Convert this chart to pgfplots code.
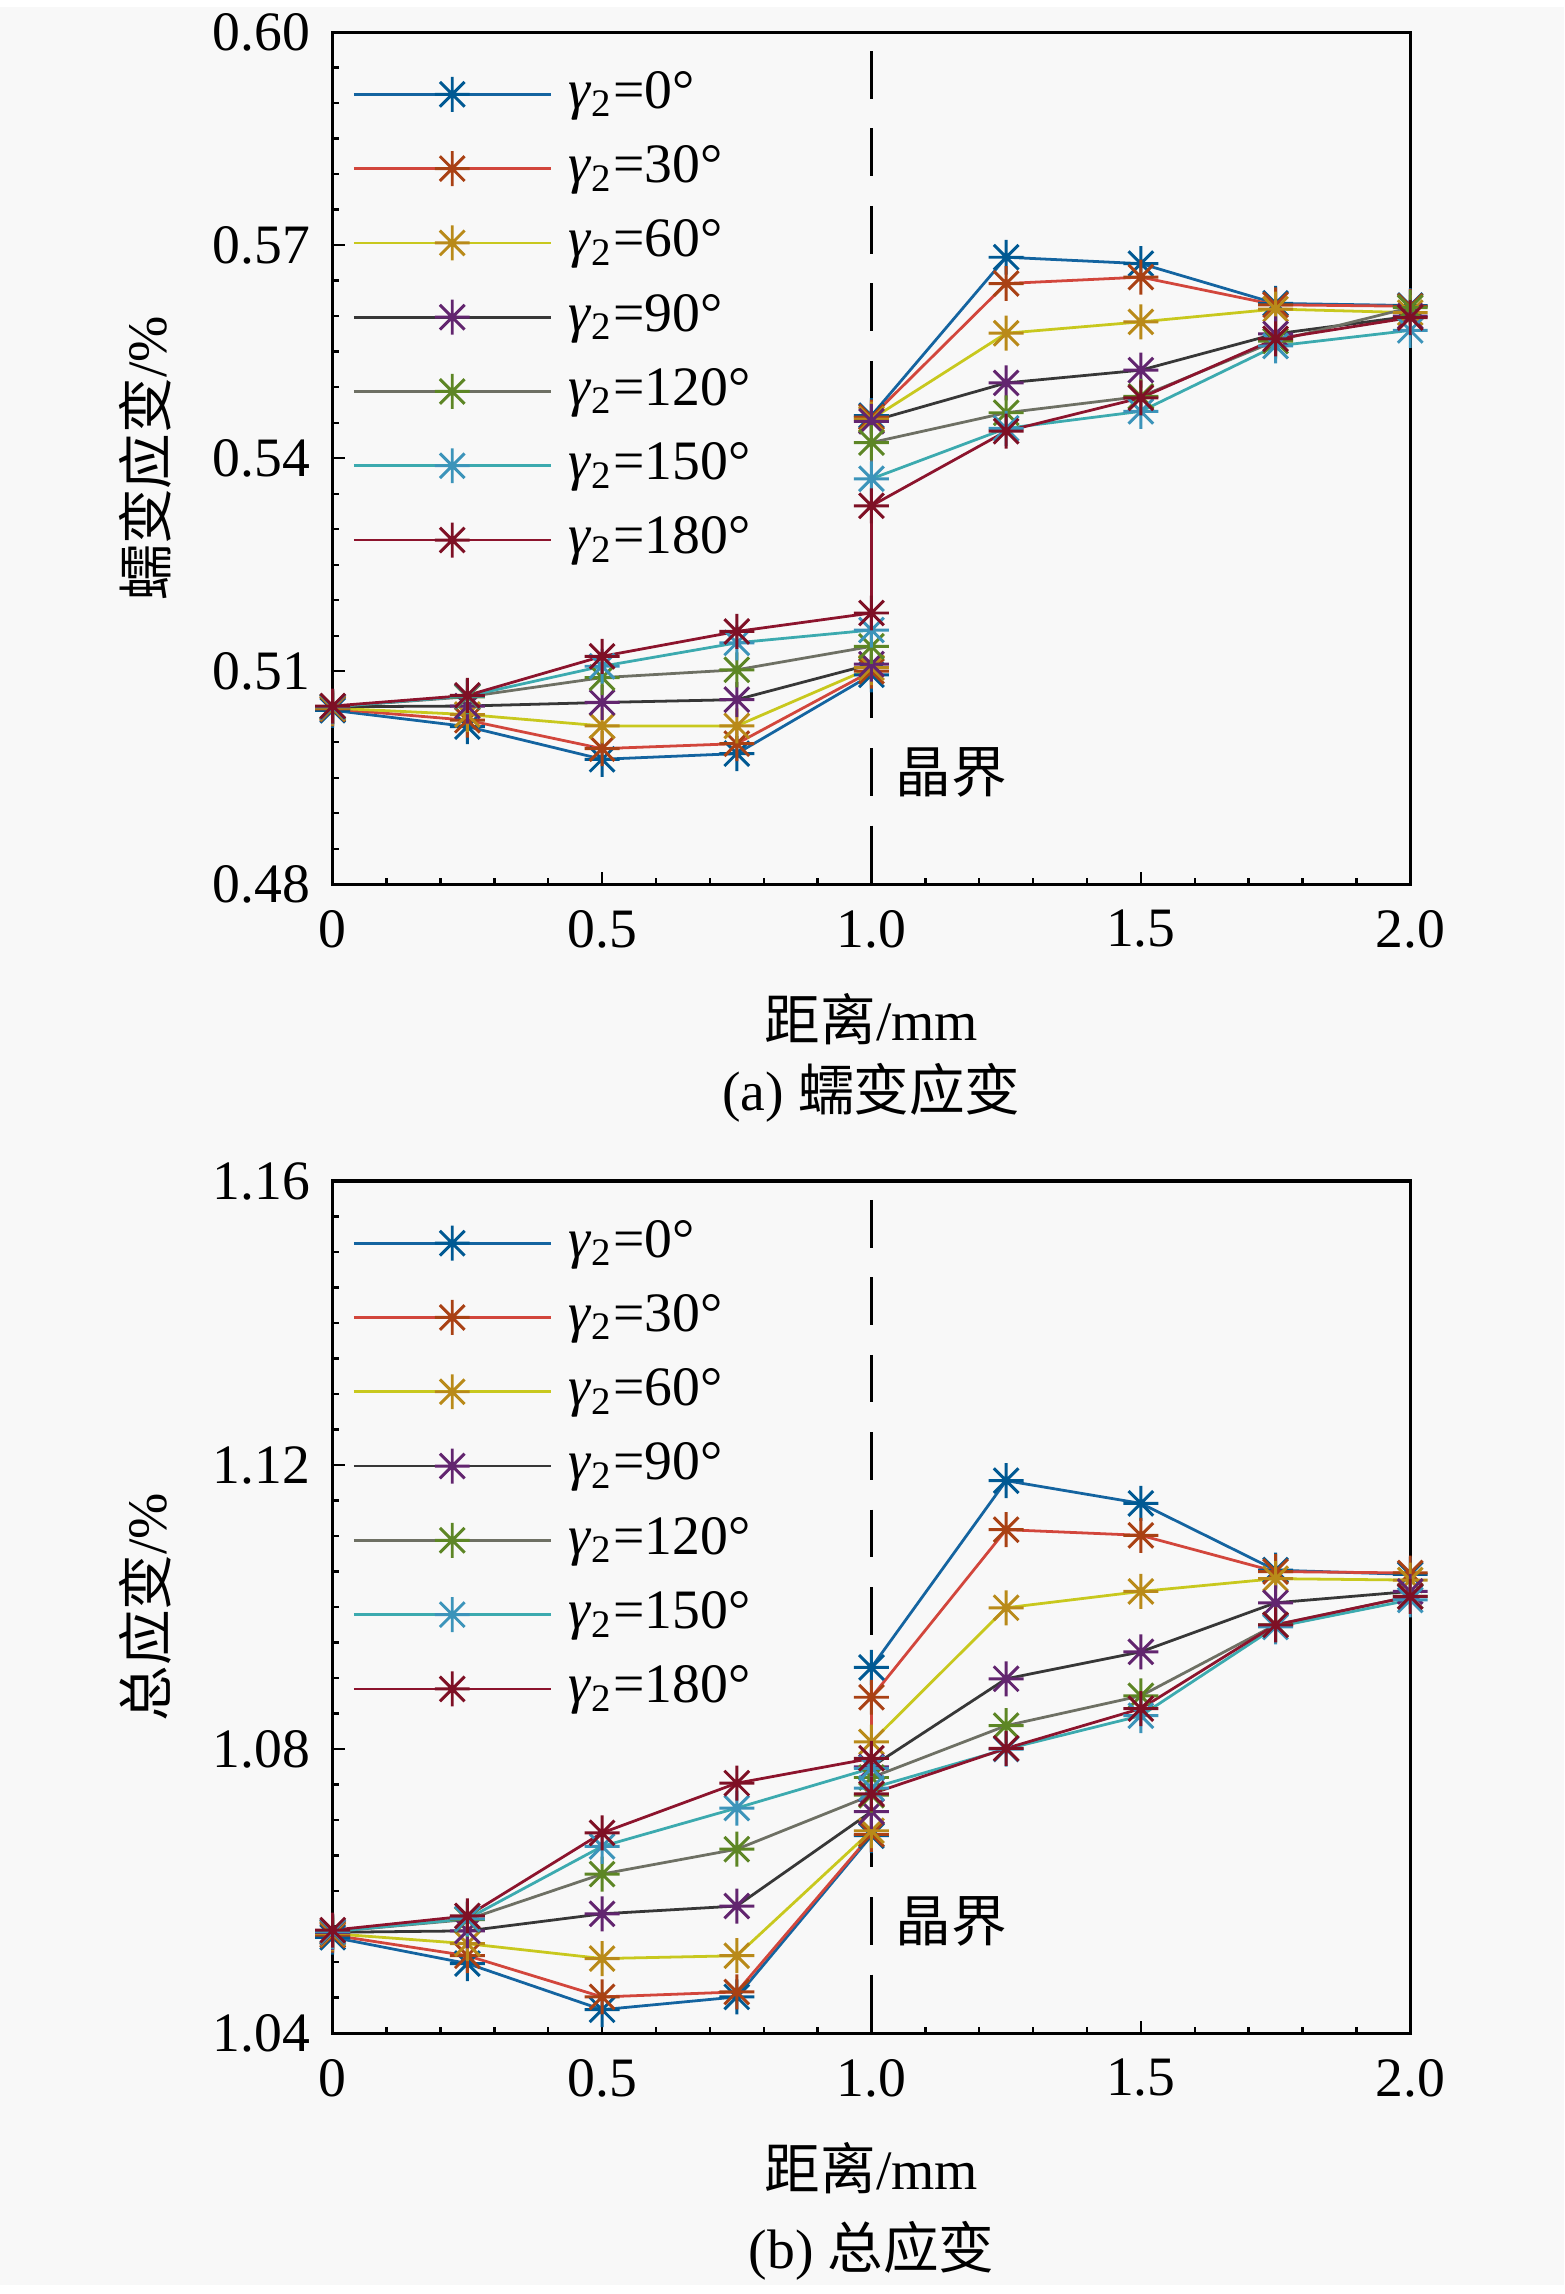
\documentclass[border=0pt]{standalone}
\usepackage{pgfplots}
\pgfplotsset{compat=1.18}
\usepackage{fontspec}
\setmainfont{Liberation Serif}
\newfontfamily\cjk{Noto Sans CJK SC}

\definecolor{bg}{RGB}{248,248,248}
\definecolor{l0}{RGB}{20,100,160}
\definecolor{l30}{RGB}{210,70,60}
\definecolor{l60}{RGB}{200,200,30}
\definecolor{l90}{RGB}{55,55,55}
\definecolor{l120}{RGB}{110,112,100}
\definecolor{l150}{RGB}{60,170,175}
\definecolor{l180}{RGB}{140,20,45}
\definecolor{m0}{RGB}{0,114,189}
\definecolor{m30}{RGB}{217,83,25}
\definecolor{m60}{RGB}{237,177,32}
\definecolor{m90}{RGB}{126,47,142}
\definecolor{m120}{RGB}{119,172,48}
\definecolor{m150}{RGB}{77,190,238}
\definecolor{m180}{RGB}{162,20,47}

\pgfdeclareplotmark{star8}{%
  \pgfpathmoveto{\pgfqpoint{0pt}{\pgfplotmarksize}}%
  \pgfpathlineto{\pgfqpoint{0pt}{-\pgfplotmarksize}}%
  \pgfpathmoveto{\pgfqpoint{\pgfplotmarksize}{0pt}}%
  \pgfpathlineto{\pgfqpoint{-\pgfplotmarksize}{0pt}}%
  \pgfpathmoveto{\pgfqpoint{.70710678\pgfplotmarksize}{.70710678\pgfplotmarksize}}%
  \pgfpathlineto{\pgfqpoint{-.70710678\pgfplotmarksize}{-.70710678\pgfplotmarksize}}%
  \pgfpathmoveto{\pgfqpoint{-.70710678\pgfplotmarksize}{.70710678\pgfplotmarksize}}%
  \pgfpathlineto{\pgfqpoint{.70710678\pgfplotmarksize}{-.70710678\pgfplotmarksize}}%
  \pgfusepathqstroke}

\newcommand{\fs}{\fontsize{14}{16}\selectfont}

\pgfplotsset{
  base/.style={
    scale only axis, width=271.25pt, height=214.5pt,
    xmin=0, xmax=2, xtick={0,0.5,1,1.5,2}, xticklabels={0,0.5,1.0,1.5,2.0},
    minor x tick num=4,
    tick pos=left, tick align=inside,
    major tick length=3pt, minor tick length=1.6pt,
    every tick/.style={black, line width=0.6pt},
    axis line style={line width=0.8pt},
    ticklabel style={font=\fs},
    xticklabel style={yshift=-3pt},
    yticklabel style={xshift=-2.2pt},
    label style={font=\fs},
    xlabel style={at={(axis description cs:0.5,-0.1585)}, anchor=center},
    ylabel style={at={(axis description cs:-0.1738,0.5)}, anchor=center},
    clip=false,
    axis background/.style={fill=bg},
    legend cell align=left,
    legend style={at={(axis description cs:0.0184,0.962)}, anchor=north west,
      draw=none, fill=none, inner sep=0pt, outer sep=0pt, row sep=3.7pt,
      font=\fs, nodes={inner sep=0pt, text height=11pt, text depth=4pt},
      /tikz/every odd column/.append style={column sep=4.25pt}},
    legend image code/.code={\draw[mark repeat=2,mark phase=2] plot coordinates {(0pt,0pt) (24.75pt,0pt) (49.5pt,0pt)};},
  },
  ser/.style 2 args={color=#1, line width=0.7pt, mark=star8, mark size=4.4pt,
    mark options={draw=#2!78!black, line width=0.75pt, solid}},
  s0/.style={ser={l0}{m0}},
  s30/.style={ser={l30}{m30}},
  s60/.style={ser={l60}{m60}},
  s90/.style={ser={l90}{m90}},
  s120/.style={ser={l120}{m120}},
  s150/.style={ser={l150}{m150}},
  s180/.style={ser={l180}{m180}},
}

\begin{document}
\begin{tikzpicture}
\fill[bg] (0pt,0pt) rectangle (393.75pt,-573.5pt);

% (a) creep strain
\begin{axis}[base, at={(83.75pt,-220.8pt)}, anchor=south west,
  ymin=0.48, ymax=0.60, ytick={0.48,0.51,0.54,0.57,0.60},
  yticklabels={0.48,0.51,0.54,0.57,0.60}, minor y tick num=5,
  xlabel={{\cjk 距离}/mm}, ylabel={{\cjk 蠕变应变}/\%}]
\addplot[black, line width=0.8pt, dash pattern=on 12pt off 7.5pt, dash phase=14.75pt, forget plot] coordinates {(1,0.60) (1,0.48)};
\addplot[s0] coordinates {(0,0.5045) (0.25,0.5022) (0.5,0.4976) (0.75,0.4984) (1,0.5095) (1,0.5460) (1.25,0.5683) (1.5,0.5674) (1.75,0.5618) (2,0.5615)};
\addplot[s30] coordinates {(0,0.5047) (0.25,0.5031) (0.5,0.4991) (0.75,0.4998) (1,0.5100) (1,0.5458) (1.25,0.5646) (1.5,0.5655) (1.75,0.5616) (2,0.5614)};
\addplot[s60] coordinates {(0,0.5048) (0.25,0.5039) (0.5,0.5023) (0.75,0.5023) (1,0.5105) (1,0.5455) (1.25,0.5576) (1.5,0.5592) (1.75,0.5610) (2,0.5605)};
\addplot[s90] coordinates {(0,0.5050) (0.25,0.5051) (0.5,0.5056) (0.75,0.5060) (1,0.5110) (1,0.5452) (1.25,0.5506) (1.5,0.5524) (1.75,0.5575) (2,0.5600)};
\addplot[s120] coordinates {(0,0.5050) (0.25,0.5064) (0.5,0.5091) (0.75,0.5102) (1,0.5135) (1,0.5422) (1.25,0.5464) (1.5,0.5487) (1.75,0.5565) (2,0.5612)};
\addplot[s150] coordinates {(0,0.5050) (0.25,0.5065) (0.5,0.5107) (0.75,0.5140) (1,0.5158) (1,0.5371) (1.25,0.5442) (1.5,0.5466) (1.75,0.5558) (2,0.5580)};
\addplot[s180] coordinates {(0,0.5051) (0.25,0.5066) (0.5,0.5121) (0.75,0.5156) (1,0.5182) (1,0.5333) (1.25,0.5438) (1.5,0.5485) (1.75,0.5568) (2,0.5598)};
\legend{\textit{γ}\textsubscript{2}=0°, \textit{γ}\textsubscript{2}=30°, \textit{γ}\textsubscript{2}=60°, \textit{γ}\textsubscript{2}=90°, \textit{γ}\textsubscript{2}=120°, \textit{γ}\textsubscript{2}=150°, \textit{γ}\textsubscript{2}=180°}
\node[font=\fs] at (axis cs:1.148,0.4957) {\cjk 晶界};
\node[font=\fs] at (axis description cs:0.5,-0.2452) {(a) {\cjk 蠕变应变}};
\end{axis}

% (b) total strain
\begin{axis}[base, at={(83.75pt,-510pt)}, anchor=south west,
  ymin=1.04, ymax=1.16, ytick={1.04,1.08,1.12,1.16},
  yticklabels={1.04,1.08,1.12,1.16}, minor y tick num=7,
  xlabel={{\cjk 距离}/mm}, ylabel={{\cjk 总应变}/\%}]
\addplot[black, line width=0.8pt, dash pattern=on 12pt off 7.5pt, dash phase=14.75pt, forget plot] coordinates {(1,1.16) (1,1.04)};
\addplot[s0] coordinates {(0,1.0535) (0.25,1.0498) (0.5,1.0433) (0.75,1.0451) (1,1.0678) (1,1.0915) (1.25,1.1178) (1.5,1.1146) (1.75,1.1052) (2,1.1046)};
\addplot[s30] coordinates {(0,1.0538) (0.25,1.0509) (0.5,1.0451) (0.75,1.0458) (1,1.0680) (1,1.0873) (1.25,1.1109) (1.5,1.1101) (1.75,1.1050) (2,1.1048)};
\addplot[s60] coordinates {(0,1.0540) (0.25,1.0526) (0.5,1.0505) (0.75,1.0509) (1,1.0685) (1,1.0810) (1.25,1.0999) (1.5,1.1022) (1.75,1.1040) (2,1.1038)};
\addplot[s90] coordinates {(0,1.0542) (0.25,1.0544) (0.5,1.0568) (0.75,1.0579) (1,1.0712) (1,1.0775) (1.25,1.0899) (1.5,1.0937) (1.75,1.1006) (2,1.1022)};
\addplot[s120] coordinates {(0,1.0543) (0.25,1.0560) (0.5,1.0624) (0.75,1.0659) (1,1.0735) (1,1.0760) (1.25,1.0833) (1.5,1.0875) (1.75,1.0975) (2,1.1015)};
\addplot[s150] coordinates {(0,1.0543) (0.25,1.0561) (0.5,1.0663) (0.75,1.0717) (1,1.0773) (1,1.0745) (1.25,1.0800) (1.5,1.0847) (1.75,1.0972) (2,1.1010)};
\addplot[s180] coordinates {(0,1.0545) (0.25,1.0565) (0.5,1.0682) (0.75,1.0752) (1,1.0787) (1,1.0737) (1.25,1.0801) (1.5,1.0857) (1.75,1.0975) (2,1.1015)};
\legend{\textit{γ}\textsubscript{2}=0°, \textit{γ}\textsubscript{2}=30°, \textit{γ}\textsubscript{2}=60°, \textit{γ}\textsubscript{2}=90°, \textit{γ}\textsubscript{2}=120°, \textit{γ}\textsubscript{2}=150°, \textit{γ}\textsubscript{2}=180°}
\node[font=\fs] at (axis cs:1.148,1.0557) {\cjk 晶界};
\node[font=\fs] at (axis description cs:0.5,-0.256) {(b) {\cjk 总应变}};
\end{axis}
\end{tikzpicture}
\end{document}
